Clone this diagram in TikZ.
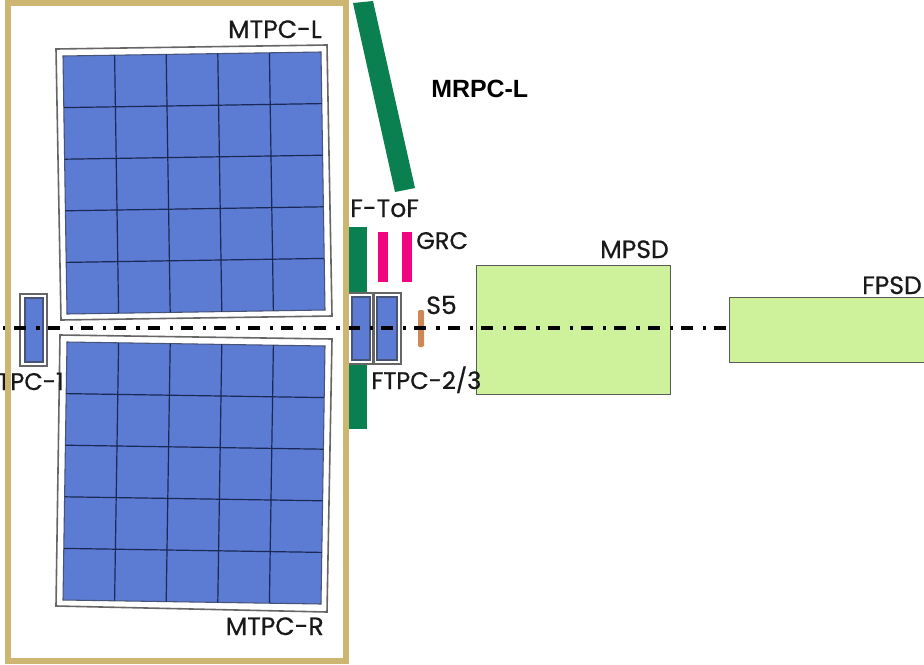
\documentclass[tikz,border=0pt]{standalone}
\usepackage{fontspec}
\setmainfont[AutoFakeBold=0.5]{Poppins}
\newfontfamily\arialfont{Liberation Sans}
\usetikzlibrary{calc}
\definecolor{tpcblue}{RGB}{92, 123, 211}
\definecolor{gridnavy}{RGB}{25, 40, 85}
\definecolor{tofgreen}{RGB}{10, 128, 80}
\definecolor{grcpink}{RGB}{240, 4, 127}
\definecolor{sfive}{RGB}{204, 136, 85}
\definecolor{psdgreen}{RGB}{205, 242, 155}
\definecolor{framegold}{RGB}{205, 181, 114}
\tikzset{
  tpcouter/.style={draw=black!60, line width=1.2pt, fill=white},
  tpcinner/.style={draw=gridnavy!80, line width=0.8pt, fill=tpcblue},
  tpcline/.style={draw=gridnavy, line width=0.9pt},
  psdbox/.style={draw=black!65, line width=0.7pt, fill=psdgreen},
  lab/.style={inner sep=0pt, font=\fontsize{18.8}{20}\selectfont\addfontfeature{FakeBold=0.6}, text=black!90},
  labsmall/.style={lab, font=\fontsize{18}{20}\selectfont\addfontfeature{FakeBold=0.6}}
}
% five by five readout grid in the quadrilateral #1 #2 #3 #4
\newcommand{\tpcgrid}[4]{
  \draw[tpcinner] (#1) -- (#2) -- (#3) -- (#4) -- cycle;
  \foreach \i in {1,2,3,4} {
    \draw[tpcline] ($(#1)!\i/5!(#2)$) -- ($(#4)!\i/5!(#3)$);
    \draw[tpcline] ($(#1)!\i/5!(#4)$) -- ($(#2)!\i/5!(#3)$);
  }
}
\begin{document}
\begin{tikzpicture}[x=0.75pt,y=-0.75pt]
  \useasboundingbox[fill=white] (0,0) rectangle (924,664);

  % MTPC-L
  \draw[tpcouter] (56,49) -- (327,45) -- (332,316) -- (61,320) -- cycle;
  \coordinate (la) at (63,56);
  \coordinate (lb) at (321,52);
  \coordinate (lc) at (325,310);
  \coordinate (ld) at (67,314);
  \tpcgrid{la}{lb}{lc}{ld}

  % MTPC-R
  \draw[tpcouter] (60,335) -- (332,339) -- (327,612) -- (56,606) -- cycle;
  \coordinate (ra) at (67,342);
  \coordinate (rb) at (325,346);
  \coordinate (rc) at (321,604);
  \coordinate (rd) at (63,600);
  \tpcgrid{ra}{rb}{rc}{rd}

  % F-ToF and MRPC-L
  \fill[tofgreen] (349,227) rectangle (367,429);
  \fill[tofgreen] (353,3) -- (373,1) -- (415,188) -- (395,192) -- cycle;

  % GRC and S5
  \foreach \x in {378,402} {
    \fill[grcpink] (\x,232) rectangle (\x+10,282);
  }
  \fill[sfive, rounded corners=1pt] (418,310) rectangle (424,347);

  % VTPC-1 and FTPC-2/3
  \draw[tpcouter] (20,294) rectangle (47,366);
  \draw[tpcinner] (25,298) rectangle (43,362);
  \draw[tpcouter] (348,293) rectangle (373,364);
  \draw[tpcinner] (352,297) rectangle (370,360);
  \draw[tpcouter] (374,293) rectangle (401,364);
  \draw[tpcinner] (377,297) rectangle (397,360);

  % MPSD and FPSD
  \draw[psdbox] (476,265) rectangle (670,394);
  \draw[psdbox] (729,297) rectangle (924,362);

  % beam axis
  \draw[black, line width=2.3pt, dash pattern=on 9pt off 7.5pt on 2.5pt off 6pt, dash phase=16.5pt]
    (3,328) -- (728,328);

  % labels
  \node[lab, anchor=base east] (mtpcl) at (322,38) {MTPC-L};
  \node[lab, anchor=base east] (mtpcr) at (324,635) {MTPC-R};
  \node[lab, anchor=base west] (ftof) at (350,217) {F-ToF};
  \node[labsmall, anchor=base west] (grc) at (416,249) {GRC};
  \node[lab, anchor=base west] (sf) at (426,314) {S5};
  \node[labsmall, anchor=base west] (ftpc) at (371,389) {FTPC-2/3};
  \node[labsmall, anchor=base east] (vtpc) at (64,390) {TPC-1};
  \node[lab, anchor=base east] (mpsd) at (669,258) {MPSD};
  \node[lab, anchor=base east] (fpsd) at (922,294) {FPSD};
  \node[inner sep=0pt, anchor=base west, font=\arialfont\bfseries\fontsize{18.7}{20}\selectfont] (mrpc) at (431,97) {MRPC-L};

  % frame
  \draw[framegold, line width=4.5pt] (8,2.5) rectangle (346,661);
\end{tikzpicture}
\end{document}
